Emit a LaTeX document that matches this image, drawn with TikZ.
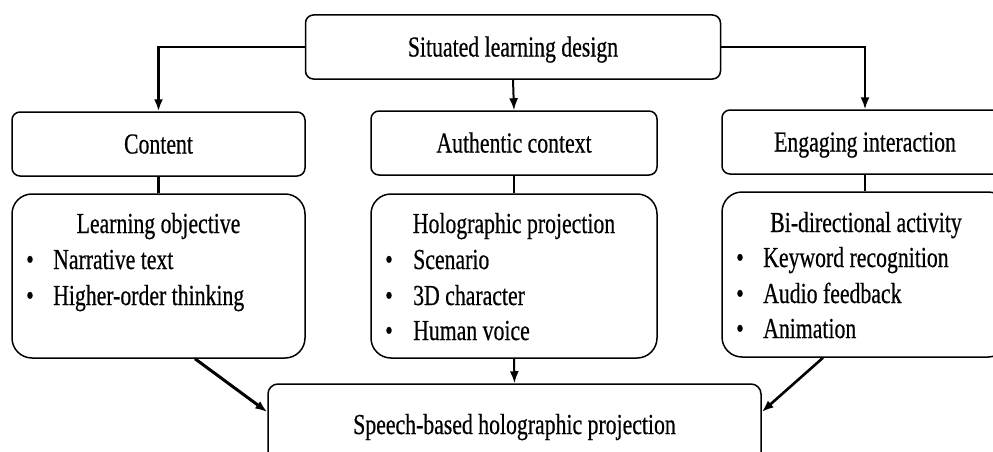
\documentclass[tikz,border=0pt]{standalone}
\usepackage{fontspec}
\setmainfont{Liberation Serif}[FakeStretch=0.75,FakeBold=0.5]
\usetikzlibrary{arrows.meta,calc}
\begin{document}
\begin{tikzpicture}[x=1pt,y=-1pt,
  fnt/.style={font=\fontsize{29}{35}\selectfont},
  box/.style={draw, line width=1.5pt, rounded corners=8pt, inner sep=0pt, fnt, text height=19pt, text depth=0pt},
  bigbox/.style={draw, line width=1.5pt, rounded corners=20pt, inner sep=0pt},
  botbox/.style={draw, line width=1.5pt, rounded corners=10pt, inner sep=0pt},
  ttl/.style={inner sep=0pt, anchor=base, fnt},
  blt/.style={inner sep=0pt, anchor=base, fnt},
  itm/.style={inner sep=0pt, anchor=base west, fnt},
  conn/.style={line width=2pt},
  arr/.style={line width=2pt, -{Latex[length=12pt,width=9pt]}},
]
\useasboundingbox (0,0) rectangle (993,452);
\clip (0,0) rectangle (993,452);

% top row
\node[box, minimum width=415pt, minimum height=64pt] (top) at (513,47) {Situated learning design};
\node[box, minimum width=293pt, minimum height=64pt] (content) at (158.5,144) {Content};
\node[box, minimum width=286pt, minimum height=64pt] (auth) at (514,143) {Authentic context};
\node[box, minimum width=286pt, minimum height=64pt] (eng) at (865,142) {Engaging interaction};

% lower boxes
\node[bigbox, minimum width=293pt, minimum height=164pt] (lo) at (158.5,276) {};
\node[bigbox, minimum width=286pt, minimum height=164pt] (ho) at (514,276) {};
\node[bigbox, minimum width=286pt, minimum height=165pt] (bi) at (865,274.5) {};

% bottom box
\node[botbox, minimum width=493pt, minimum height=90pt] (bot) at (514.5,429) {};
\node[ttl] (bottxt) at (514.5,434) {Speech-based holographic projection};

% texts in lower boxes
\node[ttl] (lot) at (158.5,233) {Learning objective};
\node[blt] (lob1) at (30,269) {•};
\node[itm] (loi1) at (53,269) {Narrative text};
\node[blt] (lob2) at (30,305) {•};
\node[itm] (loi2) at (53,305) {Higher-order thinking};

\node[ttl] (hot) at (514,233) {Holographic projection};
\node[blt] (hob1) at (389,269) {•};
\node[itm] (hoi1) at (413,269) {Scenario};
\node[blt] (hob2) at (389,305) {•};
\node[itm] (hoi2) at (413,305) {3D character};
\node[blt] (hob3) at (389,340) {•};
\node[itm] (hoi3) at (413,340) {Human voice};

\node[ttl] (bit) at (866,232) {Bi-directional activity};
\node[blt] (bib1) at (740,267) {•};
\node[itm] (bii1) at (763,267) {Keyword recognition};
\node[blt] (bib2) at (740,303) {•};
\node[itm] (bii2) at (763,303) {Audio feedback};
\node[blt] (bib3) at (740,338) {•};
\node[itm] (bii3) at (763,338) {Animation};

% connectors
\draw[arr, line width=2.8pt] (top.west) -| (content.north);
\draw[arr] (top.south) -- (auth.north);
\draw[arr] (top.east) -| (eng.north);
\draw[conn, line width=2.5pt] (content.south) -- (lo.north);
\draw[conn] (auth.south) -- (ho.north);
\draw[conn] (eng.south) -- (bi.north);
\draw[arr, line width=3pt] ([xshift=36.5pt]lo.south) -- ([yshift=17pt]bot.west);
\draw[arr, line width=2.6pt] ([xshift=-42pt]bi.south) -- ([yshift=17pt]bot.east);
\draw[arr] (ho.south) -- (bot.north);
\end{tikzpicture}
\end{document}
